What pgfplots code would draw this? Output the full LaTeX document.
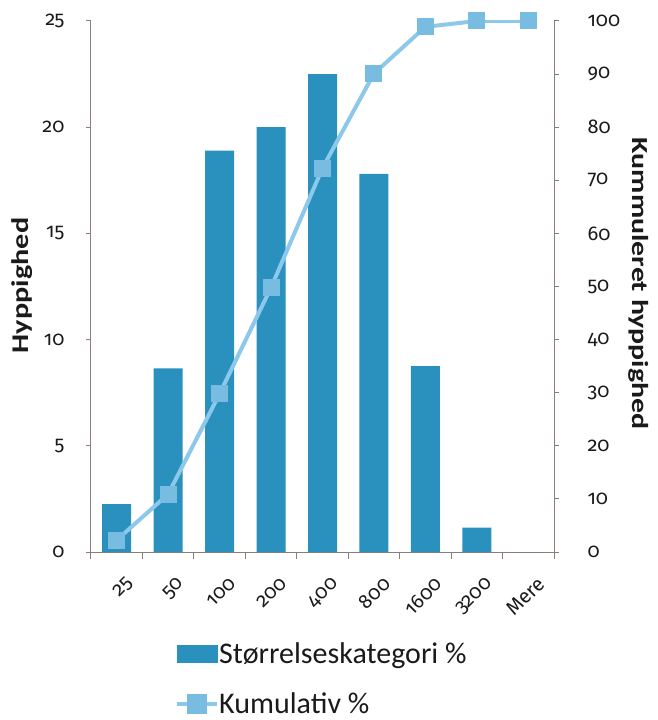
\documentclass[border=0pt]{standalone}
\usepackage{fontspec}
\usepackage{pgfplots}
\pgfplotsset{compat=1.18}
\setmainfont{Carlito}
\newfontfamily\tickfont{Fira Sans}[Numbers=OldStyle]

\definecolor{barblue}{HTML}{2A91BE}
\definecolor{lineblue}{HTML}{8CC8EA}
\definecolor{markblue}{HTML}{78BCE2}
\definecolor{axisgray}{HTML}{8A7E78}
\definecolor{textdark}{HTML}{1A1A1A}

\pgfplotsset{
  every tick label/.append style={font=\tickfont\fontsize{20bp}{20bp}\selectfont, text=textdark},
}

\begin{document}
\begin{tikzpicture}
\useasboundingbox (-91bp,-168bp) rectangle (567bp,552bp);

% Frequency per size class (bars, left axis)
\begin{axis}[
  scale only axis, width=463bp, height=531bp,
  clip mode=individual,
  xmin=-0.5, xmax=8.5, ymin=0, ymax=25,
  axis x line*=bottom, axis y line*=left,
  axis line style={axisgray, line width=1bp, -},
  xtick={0,...,8},
  xticklabels={25,50,100,200,400,800,1600,3200,Mere},
  minor xtick={-0.5,0.5,...,8.5},
  major x tick style={draw=none},
  minor x tick style={axisgray, line width=1bp},
  minor tick length=7bp,
  ytick={0,5,...,25},
  yticklabels={0,5,10,15,20,25},
  major tick length=5bp,
  tick align=outside,
  y tick style={axisgray, line width=1bp},
  x tick label style={rotate=45, anchor=east, xshift=-4bp, yshift=-26bp},
  y tick label style={xshift=-18bp},
  ybar, bar width=29bp,
]
\addplot[fill=barblue, draw=none] coordinates {
  (0,2.25) (1,8.65) (2,18.9) (3,20.0) (4,22.5) (5,17.8) (6,8.75) (7,1.15) (8,0)
};
\node[rotate=90, font=\bfseries\fontsize{24bp}{24bp}\selectfont, text=textdark]
  at (axis description cs:-0.149,0.502) {\scalebox{1.26}[1]{Hyppighed}};
\end{axis}

% Cumulative percentage (line, right axis)
\begin{axis}[
  scale only axis, width=463bp, height=531bp,
  clip mode=individual,
  xmin=-0.5, xmax=8.5, ymin=0, ymax=100,
  axis x line=none, axis y line*=right,
  axis line style={axisgray, line width=1bp, -},
  ytick={0,10,...,100},
  yticklabels={0,10,20,30,40,50,60,70,80,90,100},
  major tick length=5bp,
  tick align=outside,
  y tick style={axisgray, line width=1bp},
  y tick label style={xshift=25bp},
  legend style={
    at={(axis description cs:0.175,-0.162)}, anchor=north west,
    draw=none, fill=none,
    font=\fontsize{30bp}{32bp}\selectfont, text=textdark,
    nodes={inner xsep=0bp, inner ysep=2bp},
    row sep=24bp,
  },
  legend cell align=left,
]
\addlegendimage{legend image code/.code={\fill[barblue] (0bp,-8.5bp) rectangle (40bp,8.5bp);}}
\addplot[lineblue, line width=4bp,
  mark=square*, mark size=8bp, mark options={fill=markblue, draw=markblue, line width=0bp},
  legend image code/.code={
    \draw[lineblue, line width=4bp] (0bp,0bp) -- (40bp,0bp);
    \fill[markblue] (12bp,-8bp) rectangle (28bp,8bp);
  }] coordinates {
  (0,2.25) (1,10.9) (2,29.8) (3,49.8) (4,72.3) (5,90.1) (6,98.9) (7,100) (8,100)
};
\legend{Størrelseskategori \%, Kumulativ \%}
\node[rotate=-90, font=\bfseries\fontsize{23bp}{23bp}\selectfont, text=textdark]
  at (axis description cs:1.1836,0.5056) {\scalebox{1.3}[1]{Kummuleret hyppighed}};
\end{axis}
\end{tikzpicture}
\end{document}
